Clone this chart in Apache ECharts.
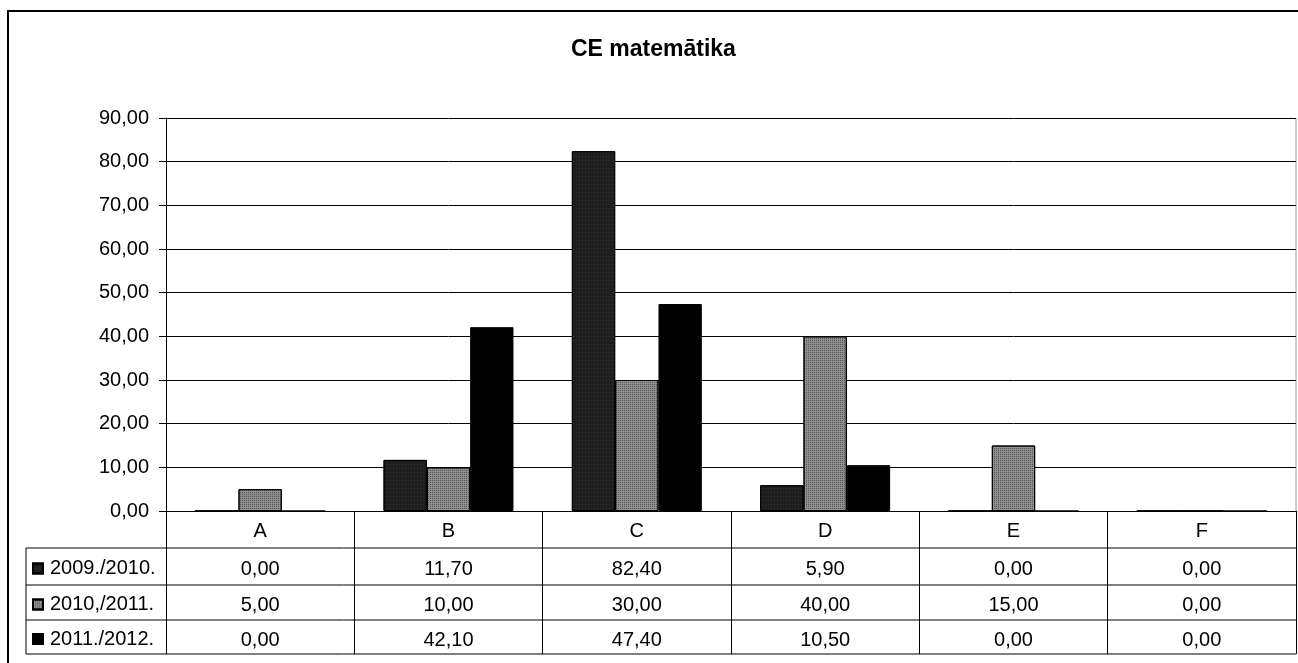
<!DOCTYPE html>
<html lang="lv">
<head>
    <meta charset="UTF-8">
    <title>CE matemātika</title>
    <script src="https://cdn.jsdelivr.net/npm/echarts/dist/echarts.min.js"></script>
    <style>
        html, body { margin: 0; padding: 0; background: #fff; }
        #ChartId { width: 1298px; height: 663px; }
    </style>
</head>
<body>
<div id="ChartId"></div>
<script>
    // dati
    var categories = ['A', 'B', 'C', 'D', 'E', 'F'];
    var seriesNames = ['2009./2010.', '2010,/2011.', '2011./2012.'];
    var values2009 = [0, 11.7, 82.4, 5.9, 0, 0];
    var values2010 = [5, 10, 30, 40, 15, 0];
    var values2011 = [0, 42.1, 47.4, 10.5, 0, 0];
    var yMin = 0, yMax = 90, yStep = 10;

    // izkārtojums
    var FONT = 'Liberation Sans, Arial, sans-serif';
    var FS = 20;
    var gridLeft = 166, gridTop = 118, gridW = 1130, gridH = 393;
    var gridBottomY = gridTop + gridH;          // 511
    var tableLeft = 26;
    var rowLines = [548, 585, 620, 654];        // tabulas horizontālās līnijas

    function fmt(v) { return v.toFixed(2).replace('.', ','); }

    function buildChart() {
        var allValues = [values2009, values2010, values2011];
        var colors = ['#1e1e1e', '#8f8f8f', '#000000'];
        var decals = [
            {symbol: 'rect', symbolSize: 1, dashArrayX: [1, 2], dashArrayY: [1, 3], color: 'rgba(70,70,70,0.55)'},
            {symbol: 'rect', symbolSize: 1, dashArrayX: [1, 1], dashArrayY: [1, 1], color: 'rgba(40,40,40,0.55)'},
            null
        ];

        var xAxes = [{
            type: 'category',
            data: categories,
            position: 'bottom',
            axisLine: {lineStyle: {color: '#000', width: 1}},
            axisTick: {show: true, length: rowLines[3] - gridBottomY, lineStyle: {color: '#000', width: 1}},
            axisLabel: {color: '#000', fontFamily: FONT, fontSize: FS, margin: 20, verticalAlign: 'middle'},
            splitLine: {show: false}
        }];
        var legends = [];
        var series = [];
        for (var i = 0; i < 3; i++) {
            var rowTop = rowLines[i];
            var rowBottom = rowLines[i + 1];
            xAxes.push({
                type: 'category',
                data: allValues[i].map(fmt),
                position: 'bottom',
                offset: rowTop - gridBottomY,
                axisLine: {show: false},
                axisTick: {show: false},
                axisLabel: {color: '#000', fontFamily: FONT, fontSize: FS, interval: 0,
                    margin: (rowBottom - rowTop) / 2 + 3, verticalAlign: 'middle'}
            });
            legends.push({
                data: [seriesNames[i]],
                left: 32,
                top: (rowTop + rowBottom) / 2 + 3 - 11,
                orient: 'horizontal',
                icon: 'rect',
                itemWidth: 10,
                itemHeight: 10,
                selectedMode: false,
                padding: 0,
                textStyle: {color: '#000', fontFamily: FONT, fontSize: FS, padding: [0, 0, 0, 2]}
            });
            var item = {color: colors[i], borderColor: '#000', borderWidth: 1};
            if (decals[i]) item.decal = decals[i];
            series.push({
                name: seriesNames[i],
                type: 'bar',
                xAxisIndex: 0,
                data: allValues[i],
                barGap: '0%',
                barCategoryGap: '31%',
                itemStyle: item
            });
        }

        var graphics = [{
            type: 'rect',
            shape: {x: 8, y: 11, width: 1300, height: 670},
            style: {fill: 'none', stroke: '#000', lineWidth: 2},
            silent: true
        }, {
            type: 'line',
            shape: {x1: tableLeft, y1: rowLines[0], x2: tableLeft, y2: rowLines[3]},
            style: {stroke: '#000', lineWidth: 1}
        }, {
            type: 'line',
            shape: {x1: gridLeft + gridW, y1: gridTop, x2: gridLeft + gridW, y2: gridBottomY},
            style: {stroke: '#999', lineWidth: 1}
        }];
        rowLines.forEach(function (y) {
            graphics.push({
                type: 'line',
                shape: {x1: tableLeft, y1: y, x2: gridLeft + gridW, y2: y},
                style: {stroke: '#000', lineWidth: 1}
            });
        });

        var myChart = echarts.init(document.getElementById('ChartId'));
        var option = {
            animation: false,
            backgroundColor: '#fff',
            title: {
                text: 'CE matemātika',
                left: 566,
                top: 33,
                textStyle: {color: '#000', fontFamily: FONT, fontSize: 23, fontWeight: 'bold'}
            },
            legend: legends,
            grid: {left: gridLeft, top: gridTop, width: gridW, height: gridH,
                containLabel: false, outerBoundsMode: 'none'},
            xAxis: xAxes,
            yAxis: {
                type: 'value',
                min: yMin,
                max: yMax,
                interval: yStep,
                axisLine: {show: true, lineStyle: {color: '#000', width: 1}},
                axisTick: {show: true, length: 7, lineStyle: {color: '#000'}},
                axisLabel: {color: '#000', fontFamily: FONT, fontSize: FS, margin: 17, formatter: fmt},
                splitLine: {lineStyle: {color: '#000', width: 1}}
            },
            series: series,
            graphic: graphics
        };
        myChart.setOption(option, true);
    }
    buildChart();
</script>
</body>
</html>
